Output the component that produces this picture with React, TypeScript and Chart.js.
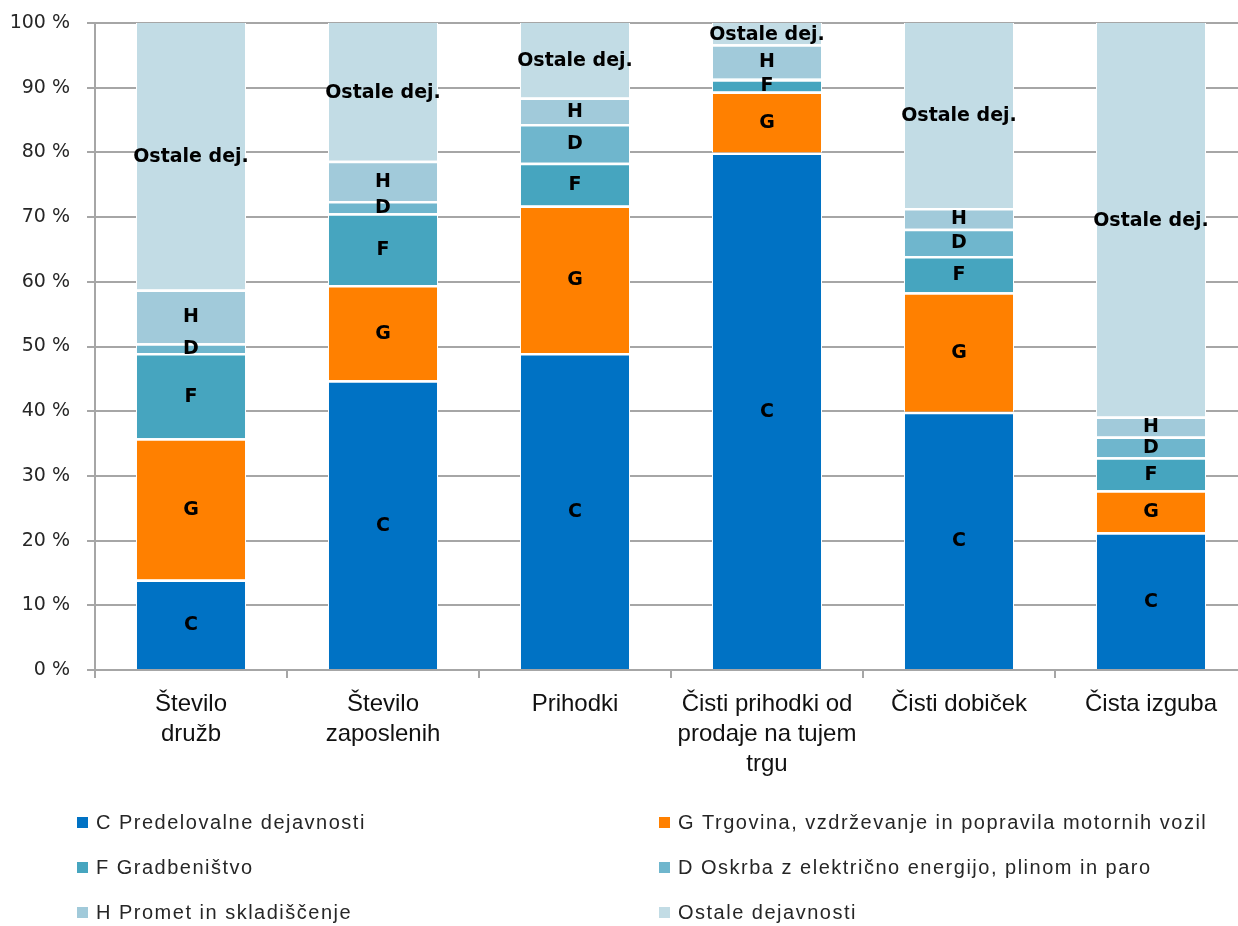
import React, { useEffect, useRef } from "react";
import { Chart, registerables } from "chart.js";

Chart.register(...registerables);

const categories: string[][] = [
  ["Število", "družb"],
  ["Število", "zaposlenih"],
  ["Prihodki"],
  ["Čisti prihodki od", "prodaje na tujem", "trgu"],
  ["Čisti dobiček"],
  ["Čista izguba"],
];

const seriesNames = [
  "C Predelovalne dejavnosti",
  "G Trgovina, vzdrževanje in popravila motornih vozil",
  "F Gradbeništvo",
  "D Oskrba z električno energijo, plinom in paro",
  "H Promet in skladiščenje",
  "Ostale dejavnosti",
];
const seriesShort = ["C", "G", "F", "D", "H", "Ostale dej."];
const seriesColors = ["#0072C4", "#FF8000", "#46A5BF", "#6FB6CD", "#A1CADA", "#C2DCE5"];

const valuesC = [14.0, 44.8, 49.0, 80.0, 39.9, 21.3];
const valuesG = [21.8, 14.7, 22.8, 9.4, 18.5, 6.5];
const valuesF = [13.2, 11.1, 6.6, 1.9, 5.6, 5.1];
const valuesD = [1.5, 1.9, 6.0, 0.2, 4.2, 3.2];
const valuesH = [8.3, 6.2, 4.1, 5.2, 3.2, 3.1];
const valuesOstale = [41.2, 21.3, 11.5, 3.3, 28.6, 60.8];
const seriesValues = [valuesC, valuesG, valuesF, valuesD, valuesH, valuesOstale];

const yTickMax = 100;
const yTickStep = 10;

const GRID = "#A6A6A6";

const segmentLabels = {
  id: "segmentLabels",
  afterDatasetsDraw(chart: any) {
    const ctx = chart.ctx;
    ctx.save();
    ctx.font = "bold 19px 'DejaVu Sans', sans-serif";
    ctx.fillStyle = "#000";
    ctx.textAlign = "center";
    ctx.textBaseline = "middle";
    chart.data.datasets.forEach((ds: any, i: number) => {
      const meta = chart.getDatasetMeta(i);
      meta.data.forEach((bar: any, j: number) => {
        const v = ds.data[j];
        if (v < 1) return;
        const p = bar.getProps(["x", "y", "base"], true);
        ctx.fillText(ds.shortLabel, p.x, (p.y + p.base) / 2 + 1);
      });
    });
    ctx.restore();
  },
};

const gridLegend = {
  id: "gridLegend",
  afterDraw(chart: any) {
    const ctx = chart.ctx;
    ctx.save();
    ctx.font = "20px 'Liberation Sans', Arial, sans-serif";
    try {
      (ctx as any).letterSpacing = "1.5px";
    } catch (e) {}
    ctx.textBaseline = "middle";
    ctx.textAlign = "left";
    const colX = [77, 659];
    const rowY = [822.5, 867.5, 912.5];
    chart.data.datasets.forEach((ds: any, i: number) => {
      const col = i % 2;
      const row = Math.floor(i / 2);
      const x = colX[col];
      const y = rowY[row];
      ctx.fillStyle = ds.backgroundColor;
      ctx.fillRect(x, y - 5.5, 11, 11);
      ctx.fillStyle = "#262626";
      ctx.fillText(ds.label, x + 19, y + 1);
    });
    ctx.restore();
  },
};

export default function App() {
  const ref = useRef<HTMLCanvasElement | null>(null);

  useEffect(() => {
    document.body.style.margin = "0";
    if (!ref.current) return;
    const chart = new Chart(ref.current, {
      type: "bar",
      data: {
        labels: categories,
        datasets: seriesValues.map((vals, i) => ({
          label: seriesNames[i],
          shortLabel: seriesShort[i],
          data: vals,
          backgroundColor: seriesColors[i],
          borderColor: "#FFFFFF",
          borderWidth: { top: i === seriesValues.length - 1 ? 0 : 2.5, left: 1, right: 1, bottom: 0 },
          borderSkipped: "start",
          barPercentage: 0.573,
          categoryPercentage: 1,
        })) as any,
      },
      options: {
        responsive: false,
        animation: false,
        devicePixelRatio: 1,
        layout: { padding: { top: 23, right: 5, left: 0, bottom: 0 } },
        plugins: {
          legend: { display: false },
          tooltip: { enabled: false },
        },
        scales: {
          x: {
            stacked: true,
            grid: {
              display: true,
              drawOnChartArea: false,
              offset: true,
              tickLength: 8,
              color: GRID,
              lineWidth: 2,
            },
            border: { display: true, color: GRID, width: 2 },
            ticks: {
              color: "#111",
              font: { family: "'Liberation Sans', Arial, sans-serif", size: 24, lineHeight: 1.25 },
              padding: 11,
              maxRotation: 0,
              autoSkip: false,
            },
            afterFit(scale: any) {
              scale.height = 926 - 670;
            },
          },
          y: {
            stacked: true,
            min: 0,
            max: yTickMax,
            grid: { color: GRID, lineWidth: 2, tickLength: 8 },
            border: { display: true, color: GRID, width: 2 },
            ticks: {
              stepSize: yTickStep,
              color: "#262626",
              padding: 17,
              font: { family: "'DejaVu Sans', sans-serif", size: 19 },
              callback: (v: any) => `${v} %`,
            },
            afterFit(scale: any) {
              scale.width = 95;
              scale.paddingTop = 0;
              scale.paddingBottom = 0;
            },
          },
        },
      } as any,
      plugins: [segmentLabels, gridLegend],
    });
    return () => chart.destroy();
  }, []);

  return (
    <div style={{ width: 1238, height: 926, overflow: "hidden", position: "relative", background: "#fff" }}>
      <canvas ref={ref} width={1252} height={926} style={{ width: 1252, height: 926, display: "block" }} />
    </div>
  );
}
